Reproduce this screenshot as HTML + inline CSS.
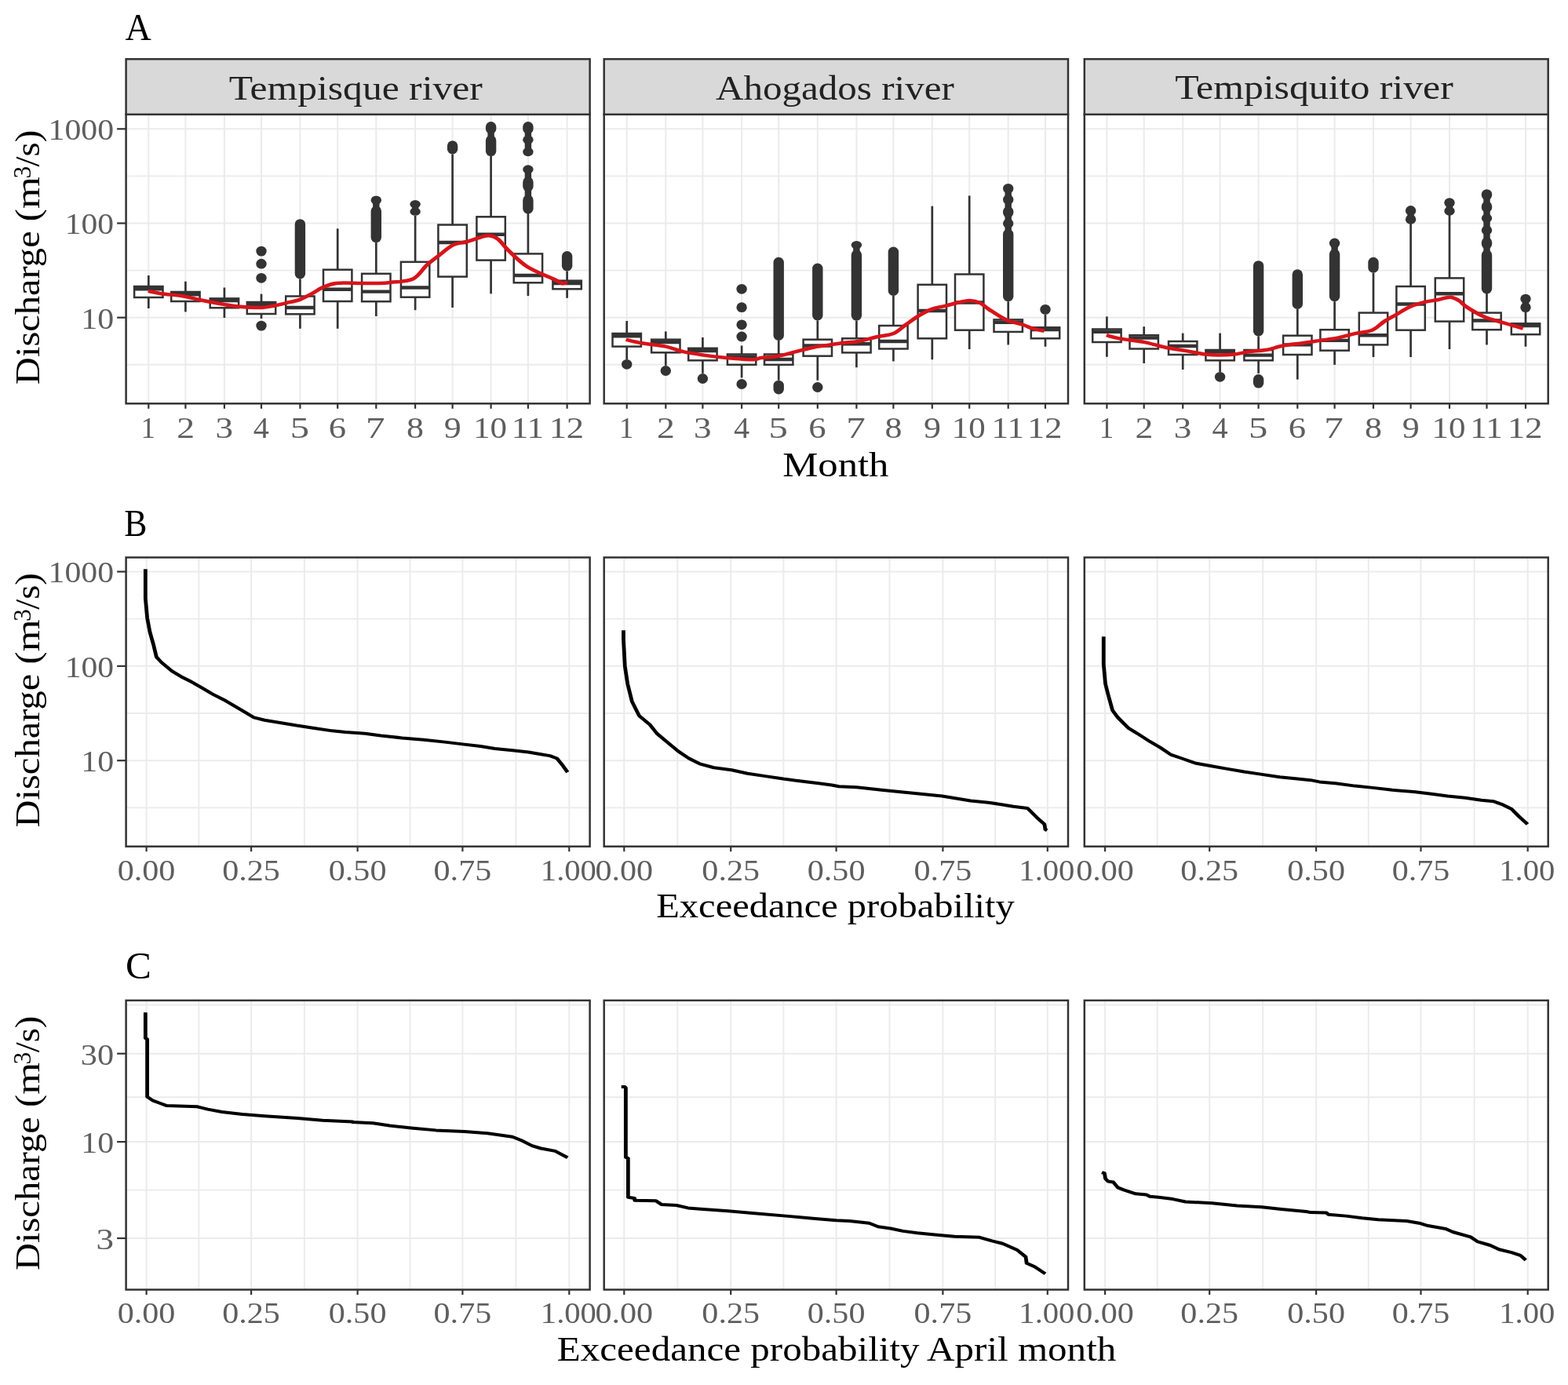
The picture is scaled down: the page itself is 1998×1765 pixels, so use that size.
<!DOCTYPE html>
<html><head><meta charset="utf-8"><title>Discharge figure</title>
<style>html,body{margin:0;padding:0;background:#fff;}svg{display:block;filter:blur(0.45px);}</style>
</head><body>
<svg width="1998" height="1765" viewBox="0 0 1998 1765" font-family='"Liberation Serif", "DejaVu Serif", serif'>
<rect x="0" y="0" width="1998" height="1765" fill="#FFFFFF"/>
<line x1="160.6" y1="224.4" x2="751.6" y2="224.4" stroke="#EBEBEB" stroke-width="1.9"/>
<line x1="160.6" y1="344.6" x2="751.6" y2="344.6" stroke="#EBEBEB" stroke-width="1.9"/>
<line x1="160.6" y1="464.8" x2="751.6" y2="464.8" stroke="#EBEBEB" stroke-width="1.9"/>
<line x1="160.6" y1="164.3" x2="751.6" y2="164.3" stroke="#EBEBEB" stroke-width="2"/>
<line x1="160.6" y1="284.5" x2="751.6" y2="284.5" stroke="#EBEBEB" stroke-width="2"/>
<line x1="160.6" y1="404.7" x2="751.6" y2="404.7" stroke="#EBEBEB" stroke-width="2"/>
<line x1="189.3" y1="145.8" x2="189.3" y2="514.3" stroke="#EBEBEB" stroke-width="2"/>
<line x1="236.4" y1="145.8" x2="236.4" y2="514.3" stroke="#EBEBEB" stroke-width="2"/>
<line x1="285.9" y1="145.8" x2="285.9" y2="514.3" stroke="#EBEBEB" stroke-width="2"/>
<line x1="333" y1="145.8" x2="333" y2="514.3" stroke="#EBEBEB" stroke-width="2"/>
<line x1="382.4" y1="145.8" x2="382.4" y2="514.3" stroke="#EBEBEB" stroke-width="2"/>
<line x1="430.2" y1="145.8" x2="430.2" y2="514.3" stroke="#EBEBEB" stroke-width="2"/>
<line x1="479.3" y1="145.8" x2="479.3" y2="514.3" stroke="#EBEBEB" stroke-width="2"/>
<line x1="529.1" y1="145.8" x2="529.1" y2="514.3" stroke="#EBEBEB" stroke-width="2"/>
<line x1="576.6" y1="145.8" x2="576.6" y2="514.3" stroke="#EBEBEB" stroke-width="2"/>
<line x1="625.6" y1="145.8" x2="625.6" y2="514.3" stroke="#EBEBEB" stroke-width="2"/>
<line x1="672.9" y1="145.8" x2="672.9" y2="514.3" stroke="#EBEBEB" stroke-width="2"/>
<line x1="722.6" y1="145.8" x2="722.6" y2="514.3" stroke="#EBEBEB" stroke-width="2"/>
<line x1="189.3" y1="351" x2="189.3" y2="365" stroke="#333333" stroke-width="2.7"/>
<line x1="189.3" y1="379" x2="189.3" y2="393" stroke="#333333" stroke-width="2.7"/>
<rect x="171.1" y="365" width="36.4" height="14" fill="#FFFFFF" stroke="#333333" stroke-width="2.5"/>
<line x1="171.1" y1="368.3" x2="207.5" y2="368.3" stroke="#333333" stroke-width="4.4"/>
<line x1="236.4" y1="358.7" x2="236.4" y2="372" stroke="#333333" stroke-width="2.7"/>
<line x1="236.4" y1="384" x2="236.4" y2="397.4" stroke="#333333" stroke-width="2.7"/>
<rect x="218.2" y="372" width="36.4" height="12" fill="#FFFFFF" stroke="#333333" stroke-width="2.5"/>
<line x1="218.2" y1="375.3" x2="254.6" y2="375.3" stroke="#333333" stroke-width="4.4"/>
<line x1="285.9" y1="366.5" x2="285.9" y2="380.4" stroke="#333333" stroke-width="2.7"/>
<line x1="285.9" y1="392.3" x2="285.9" y2="405" stroke="#333333" stroke-width="2.7"/>
<rect x="267.7" y="380.4" width="36.4" height="11.9" fill="#FFFFFF" stroke="#333333" stroke-width="2.5"/>
<line x1="267.7" y1="383" x2="304.1" y2="383" stroke="#333333" stroke-width="4.4"/>
<line x1="333" y1="374.6" x2="333" y2="385" stroke="#333333" stroke-width="2.7"/>
<line x1="333" y1="400" x2="333" y2="406" stroke="#333333" stroke-width="2.7"/>
<rect x="314.8" y="385" width="36.4" height="15" fill="#FFFFFF" stroke="#333333" stroke-width="2.5"/>
<line x1="314.8" y1="388.3" x2="351.2" y2="388.3" stroke="#333333" stroke-width="4.4"/>
<ellipse cx="333" cy="320.1" rx="6.7" ry="6.4" fill="#333333"/>
<ellipse cx="333" cy="336.2" rx="6.7" ry="6.4" fill="#333333"/>
<ellipse cx="333" cy="354.3" rx="6.7" ry="6.4" fill="#333333"/>
<ellipse cx="333" cy="415.1" rx="6.7" ry="6.4" fill="#333333"/>
<line x1="382.4" y1="355.4" x2="382.4" y2="377.5" stroke="#333333" stroke-width="2.7"/>
<line x1="382.4" y1="400.3" x2="382.4" y2="418.8" stroke="#333333" stroke-width="2.7"/>
<rect x="364.2" y="377.5" width="36.4" height="22.8" fill="#FFFFFF" stroke="#333333" stroke-width="2.5"/>
<line x1="364.2" y1="392" x2="400.6" y2="392" stroke="#333333" stroke-width="4.4"/>
<rect x="375.7" y="279.2" width="13.4" height="76.2" rx="6.7" ry="6.5" fill="#333333"/>
<line x1="430.2" y1="291.3" x2="430.2" y2="343.7" stroke="#333333" stroke-width="2.7"/>
<line x1="430.2" y1="384" x2="430.2" y2="418.8" stroke="#333333" stroke-width="2.7"/>
<rect x="412" y="343.7" width="36.4" height="40.3" fill="#FFFFFF" stroke="#333333" stroke-width="2.5"/>
<line x1="412" y1="368.7" x2="448.4" y2="368.7" stroke="#333333" stroke-width="4.4"/>
<line x1="479.3" y1="309" x2="479.3" y2="348.8" stroke="#333333" stroke-width="2.7"/>
<line x1="479.3" y1="384.2" x2="479.3" y2="403" stroke="#333333" stroke-width="2.7"/>
<rect x="461.1" y="348.8" width="36.4" height="35.4" fill="#FFFFFF" stroke="#333333" stroke-width="2.5"/>
<line x1="461.1" y1="371.6" x2="497.5" y2="371.6" stroke="#333333" stroke-width="4.4"/>
<rect x="475.1" y="252.4" width="8.4" height="53.6" fill="#333333"/>
<ellipse cx="479.3" cy="255.2" rx="6.7" ry="5.8" fill="#333333"/>
<rect x="472.6" y="262.5" width="13.4" height="46.5" rx="6.7" ry="6.4" fill="#333333"/>
<line x1="529.1" y1="274.8" x2="529.1" y2="333.8" stroke="#333333" stroke-width="2.7"/>
<line x1="529.1" y1="378.7" x2="529.1" y2="395.2" stroke="#333333" stroke-width="2.7"/>
<rect x="510.9" y="333.8" width="36.4" height="44.9" fill="#FFFFFF" stroke="#333333" stroke-width="2.5"/>
<line x1="510.9" y1="366.5" x2="547.3" y2="366.5" stroke="#333333" stroke-width="4.4"/>
<rect x="524.9" y="257.9" width="8.4" height="13.9" fill="#333333"/>
<ellipse cx="529.1" cy="260.2" rx="6.7" ry="5.3" fill="#333333"/>
<ellipse cx="529.1" cy="269.65" rx="6.7" ry="5.15" fill="#333333"/>
<line x1="576.6" y1="196.4" x2="576.6" y2="286.5" stroke="#333333" stroke-width="2.7"/>
<line x1="576.6" y1="352.6" x2="576.6" y2="392" stroke="#333333" stroke-width="2.7"/>
<rect x="558.4" y="286.5" width="36.4" height="66.1" fill="#FFFFFF" stroke="#333333" stroke-width="2.5"/>
<line x1="558.4" y1="309" x2="594.8" y2="309" stroke="#333333" stroke-width="4.4"/>
<rect x="569.9" y="179.3" width="13.4" height="17.1" rx="6.7" ry="6.5" fill="#333333"/>
<line x1="625.6" y1="198.6" x2="625.6" y2="276.3" stroke="#333333" stroke-width="2.7"/>
<line x1="625.6" y1="331.6" x2="625.6" y2="374.3" stroke="#333333" stroke-width="2.7"/>
<rect x="607.4" y="276.3" width="36.4" height="55.3" fill="#FFFFFF" stroke="#333333" stroke-width="2.5"/>
<line x1="607.4" y1="298.7" x2="643.8" y2="298.7" stroke="#333333" stroke-width="4.4"/>
<rect x="621.4" y="158.1" width="8.4" height="37.9" fill="#333333"/>
<rect x="618.9" y="155.1" width="13.4" height="15.5" rx="6.7" ry="6.4" fill="#333333"/>
<rect x="618.9" y="172.5" width="13.4" height="26.5" rx="6.7" ry="6.4" fill="#333333"/>
<line x1="672.9" y1="271.5" x2="672.9" y2="323.4" stroke="#333333" stroke-width="2.7"/>
<line x1="672.9" y1="360.3" x2="672.9" y2="377" stroke="#333333" stroke-width="2.7"/>
<rect x="654.7" y="323.4" width="36.4" height="36.9" fill="#FFFFFF" stroke="#333333" stroke-width="2.5"/>
<line x1="654.7" y1="351" x2="691.1" y2="351" stroke="#333333" stroke-width="4.4"/>
<rect x="668.7" y="158.1" width="8.4" height="38.1" fill="#333333"/>
<rect x="666.2" y="155.1" width="13.4" height="15.5" rx="6.7" ry="6.4" fill="#333333"/>
<ellipse cx="672.9" cy="178.3" rx="6.7" ry="5.7" fill="#333333"/>
<ellipse cx="672.9" cy="193.55" rx="6.7" ry="5.65" fill="#333333"/>
<rect x="668.7" y="213.3" width="8.4" height="56.1" fill="#333333"/>
<ellipse cx="672.9" cy="215.9" rx="6.7" ry="5.6" fill="#333333"/>
<rect x="666.2" y="225.5" width="13.4" height="18.5" rx="6.7" ry="6.4" fill="#333333"/>
<rect x="666.2" y="248.5" width="13.4" height="23.9" rx="6.7" ry="6.4" fill="#333333"/>
<line x1="722.6" y1="345.5" x2="722.6" y2="357.7" stroke="#333333" stroke-width="2.7"/>
<line x1="722.6" y1="368.3" x2="722.6" y2="379.8" stroke="#333333" stroke-width="2.7"/>
<rect x="704.4" y="357.7" width="36.4" height="10.6" fill="#FFFFFF" stroke="#333333" stroke-width="2.5"/>
<line x1="704.4" y1="361" x2="740.8" y2="361" stroke="#333333" stroke-width="4.4"/>
<rect x="715.9" y="320.1" width="13.4" height="25.4" rx="6.7" ry="6.5" fill="#333333"/>
<g transform="scale(1.2,1)"><path d="M157.25,370.9 C159.54,371.45 164.71,373.1 171,374.2 C177.29,375.3 188.25,376.2 195,377.5 C201.75,378.8 204.75,380.33 211.5,382 C218.25,383.67 228.43,386.03 235.5,387.5 C242.57,388.97 246.86,390.07 253.92,390.8 C260.97,391.53 271.69,392.08 277.83,391.9 C283.97,391.72 285.85,390.82 290.75,389.7 C295.65,388.58 302.65,386.5 307.25,385.2 C311.85,383.9 314.33,383.73 318.33,381.9 C322.33,380.07 327.26,376.77 331.25,374.2 C335.24,371.63 337.96,368.72 342.25,366.5 C346.54,364.28 350.15,361.82 357,360.9 C363.85,359.98 376.19,360.98 383.33,361 C390.47,361.02 394.63,361.18 399.83,361 C405.04,360.82 408.14,360.82 414.58,359.9 C421.03,358.98 432.06,359.18 438.5,355.5 C444.94,351.82 448.65,342.78 453.25,337.8 C457.85,332.82 461.49,329.83 466.08,325.6 C470.68,321.37 475.92,315.33 480.83,312.4 C485.75,309.47 490.67,309.67 495.58,308 C500.5,306.33 506.35,303.7 510.33,302.4 C514.32,301.1 516.43,299.83 519.5,300.2 C522.57,300.57 525.38,301.47 528.75,304.6 C532.12,307.73 534.54,313.1 539.75,319 C544.96,324.9 552.01,333.92 560,340 C567.99,346.08 581.53,352 587.67,355.5 C593.81,359 594.38,360.27 596.83,361 C599.29,361.73 601.49,360.08 602.42,359.9" fill="none" stroke="#D7141A" stroke-width="4.5" stroke-linejoin="round" stroke-linecap="butt"/></g>
<rect x="160.6" y="145.8" width="591" height="368.5" fill="none" stroke="#333333" stroke-width="2.5"/>
<rect x="160.6" y="75.3" width="591" height="70.5" fill="#D9D9D9" stroke="#333333" stroke-width="2.5"/>
<line x1="189.3" y1="514.3" x2="189.3" y2="520.8" stroke="#333333" stroke-width="2.2"/>
<line x1="236.4" y1="514.3" x2="236.4" y2="520.8" stroke="#333333" stroke-width="2.2"/>
<line x1="285.9" y1="514.3" x2="285.9" y2="520.8" stroke="#333333" stroke-width="2.2"/>
<line x1="333" y1="514.3" x2="333" y2="520.8" stroke="#333333" stroke-width="2.2"/>
<line x1="382.4" y1="514.3" x2="382.4" y2="520.8" stroke="#333333" stroke-width="2.2"/>
<line x1="430.2" y1="514.3" x2="430.2" y2="520.8" stroke="#333333" stroke-width="2.2"/>
<line x1="479.3" y1="514.3" x2="479.3" y2="520.8" stroke="#333333" stroke-width="2.2"/>
<line x1="529.1" y1="514.3" x2="529.1" y2="520.8" stroke="#333333" stroke-width="2.2"/>
<line x1="576.6" y1="514.3" x2="576.6" y2="520.8" stroke="#333333" stroke-width="2.2"/>
<line x1="625.6" y1="514.3" x2="625.6" y2="520.8" stroke="#333333" stroke-width="2.2"/>
<line x1="672.9" y1="514.3" x2="672.9" y2="520.8" stroke="#333333" stroke-width="2.2"/>
<line x1="722.6" y1="514.3" x2="722.6" y2="520.8" stroke="#333333" stroke-width="2.2"/>
<line x1="769.7" y1="224.4" x2="1361" y2="224.4" stroke="#EBEBEB" stroke-width="1.9"/>
<line x1="769.7" y1="344.6" x2="1361" y2="344.6" stroke="#EBEBEB" stroke-width="1.9"/>
<line x1="769.7" y1="464.8" x2="1361" y2="464.8" stroke="#EBEBEB" stroke-width="1.9"/>
<line x1="769.7" y1="164.3" x2="1361" y2="164.3" stroke="#EBEBEB" stroke-width="2"/>
<line x1="769.7" y1="284.5" x2="1361" y2="284.5" stroke="#EBEBEB" stroke-width="2"/>
<line x1="769.7" y1="404.7" x2="1361" y2="404.7" stroke="#EBEBEB" stroke-width="2"/>
<line x1="798.7" y1="145.8" x2="798.7" y2="514.3" stroke="#EBEBEB" stroke-width="2"/>
<line x1="848.3" y1="145.8" x2="848.3" y2="514.3" stroke="#EBEBEB" stroke-width="2"/>
<line x1="895.4" y1="145.8" x2="895.4" y2="514.3" stroke="#EBEBEB" stroke-width="2"/>
<line x1="945.1" y1="145.8" x2="945.1" y2="514.3" stroke="#EBEBEB" stroke-width="2"/>
<line x1="992.2" y1="145.8" x2="992.2" y2="514.3" stroke="#EBEBEB" stroke-width="2"/>
<line x1="1041.8" y1="145.8" x2="1041.8" y2="514.3" stroke="#EBEBEB" stroke-width="2"/>
<line x1="1091.4" y1="145.8" x2="1091.4" y2="514.3" stroke="#EBEBEB" stroke-width="2"/>
<line x1="1138.4" y1="145.8" x2="1138.4" y2="514.3" stroke="#EBEBEB" stroke-width="2"/>
<line x1="1187.8" y1="145.8" x2="1187.8" y2="514.3" stroke="#EBEBEB" stroke-width="2"/>
<line x1="1235.2" y1="145.8" x2="1235.2" y2="514.3" stroke="#EBEBEB" stroke-width="2"/>
<line x1="1284.7" y1="145.8" x2="1284.7" y2="514.3" stroke="#EBEBEB" stroke-width="2"/>
<line x1="1332" y1="145.8" x2="1332" y2="514.3" stroke="#EBEBEB" stroke-width="2"/>
<line x1="798.7" y1="409" x2="798.7" y2="425" stroke="#333333" stroke-width="2.7"/>
<line x1="798.7" y1="441.6" x2="798.7" y2="458" stroke="#333333" stroke-width="2.7"/>
<rect x="780.5" y="425" width="36.4" height="16.6" fill="#FFFFFF" stroke="#333333" stroke-width="2.5"/>
<line x1="780.5" y1="428.3" x2="816.9" y2="428.3" stroke="#333333" stroke-width="4.4"/>
<ellipse cx="798.7" cy="464.3" rx="6.7" ry="6.4" fill="#333333"/>
<line x1="848.3" y1="422.4" x2="848.3" y2="432.7" stroke="#333333" stroke-width="2.7"/>
<line x1="848.3" y1="449.3" x2="848.3" y2="465.9" stroke="#333333" stroke-width="2.7"/>
<rect x="830.1" y="432.7" width="36.4" height="16.6" fill="#FFFFFF" stroke="#333333" stroke-width="2.5"/>
<line x1="830.1" y1="436" x2="866.5" y2="436" stroke="#333333" stroke-width="4.4"/>
<ellipse cx="848.3" cy="472.5" rx="6.7" ry="6.4" fill="#333333"/>
<line x1="895.4" y1="430" x2="895.4" y2="443.8" stroke="#333333" stroke-width="2.7"/>
<line x1="895.4" y1="459.3" x2="895.4" y2="475.8" stroke="#333333" stroke-width="2.7"/>
<rect x="877.2" y="443.8" width="36.4" height="15.5" fill="#FFFFFF" stroke="#333333" stroke-width="2.5"/>
<line x1="877.2" y1="447" x2="913.6" y2="447" stroke="#333333" stroke-width="4.4"/>
<ellipse cx="895.4" cy="482.5" rx="6.7" ry="6.4" fill="#333333"/>
<line x1="945.1" y1="440.5" x2="945.1" y2="451.5" stroke="#333333" stroke-width="2.7"/>
<line x1="945.1" y1="464.8" x2="945.1" y2="481.4" stroke="#333333" stroke-width="2.7"/>
<rect x="926.9" y="451.5" width="36.4" height="13.3" fill="#FFFFFF" stroke="#333333" stroke-width="2.5"/>
<line x1="926.9" y1="454.8" x2="963.3" y2="454.8" stroke="#333333" stroke-width="4.4"/>
<ellipse cx="945.1" cy="368.3" rx="6.7" ry="6.4" fill="#333333"/>
<ellipse cx="945.1" cy="391.7" rx="6.7" ry="6.4" fill="#333333"/>
<ellipse cx="945.1" cy="413.8" rx="6.7" ry="6.4" fill="#333333"/>
<ellipse cx="945.1" cy="429" rx="6.7" ry="6.4" fill="#333333"/>
<ellipse cx="945.1" cy="489.5" rx="6.7" ry="6.4" fill="#333333"/>
<line x1="992.2" y1="433.9" x2="992.2" y2="451.5" stroke="#333333" stroke-width="2.7"/>
<line x1="992.2" y1="464.8" x2="992.2" y2="484.7" stroke="#333333" stroke-width="2.7"/>
<rect x="974" y="451.5" width="36.4" height="13.3" fill="#FFFFFF" stroke="#333333" stroke-width="2.5"/>
<line x1="974" y1="458" x2="1010.4" y2="458" stroke="#333333" stroke-width="4.4"/>
<rect x="985.5" y="327.8" width="13.4" height="106.1" rx="6.7" ry="6.5" fill="#333333"/>
<rect x="985.5" y="484.7" width="13.4" height="17.7" rx="6.7" ry="6.5" fill="#333333"/>
<line x1="1041.8" y1="408.4" x2="1041.8" y2="432.7" stroke="#333333" stroke-width="2.7"/>
<line x1="1041.8" y1="453.7" x2="1041.8" y2="484.7" stroke="#333333" stroke-width="2.7"/>
<rect x="1023.6" y="432.7" width="36.4" height="21" fill="#FFFFFF" stroke="#333333" stroke-width="2.5"/>
<line x1="1023.6" y1="440.5" x2="1060" y2="440.5" stroke="#333333" stroke-width="4.4"/>
<rect x="1035.1" y="335.5" width="13.4" height="72.9" rx="6.7" ry="6.5" fill="#333333"/>
<ellipse cx="1041.8" cy="493.5" rx="6.7" ry="6.4" fill="#333333"/>
<line x1="1091.4" y1="408.5" x2="1091.4" y2="431.3" stroke="#333333" stroke-width="2.7"/>
<line x1="1091.4" y1="449.4" x2="1091.4" y2="468.2" stroke="#333333" stroke-width="2.7"/>
<rect x="1073.2" y="431.3" width="36.4" height="18.1" fill="#FFFFFF" stroke="#333333" stroke-width="2.5"/>
<line x1="1073.2" y1="438.3" x2="1109.6" y2="438.3" stroke="#333333" stroke-width="4.4"/>
<rect x="1087.2" y="309.9" width="8.4" height="95.6" fill="#333333"/>
<ellipse cx="1091.4" cy="312.2" rx="6.7" ry="5.3" fill="#333333"/>
<rect x="1084.7" y="318.5" width="13.4" height="90" rx="6.7" ry="6.4" fill="#333333"/>
<line x1="1138.4" y1="377" x2="1138.4" y2="415" stroke="#333333" stroke-width="2.7"/>
<line x1="1138.4" y1="444.5" x2="1138.4" y2="460.4" stroke="#333333" stroke-width="2.7"/>
<rect x="1120.2" y="415" width="36.4" height="29.5" fill="#FFFFFF" stroke="#333333" stroke-width="2.5"/>
<line x1="1120.2" y1="435" x2="1156.6" y2="435" stroke="#333333" stroke-width="4.4"/>
<rect x="1131.7" y="314.6" width="13.4" height="62.4" rx="6.7" ry="6.5" fill="#333333"/>
<line x1="1187.8" y1="262.7" x2="1187.8" y2="362.8" stroke="#333333" stroke-width="2.7"/>
<line x1="1187.8" y1="431.3" x2="1187.8" y2="458.2" stroke="#333333" stroke-width="2.7"/>
<rect x="1169.6" y="362.8" width="36.4" height="68.5" fill="#FFFFFF" stroke="#333333" stroke-width="2.5"/>
<line x1="1169.6" y1="396" x2="1206" y2="396" stroke="#333333" stroke-width="4.4"/>
<line x1="1235.2" y1="249.4" x2="1235.2" y2="349.5" stroke="#333333" stroke-width="2.7"/>
<line x1="1235.2" y1="420.7" x2="1235.2" y2="445" stroke="#333333" stroke-width="2.7"/>
<rect x="1217" y="349.5" width="36.4" height="71.2" fill="#FFFFFF" stroke="#333333" stroke-width="2.5"/>
<line x1="1217" y1="385.5" x2="1253.4" y2="385.5" stroke="#333333" stroke-width="4.4"/>
<line x1="1284.7" y1="384.2" x2="1284.7" y2="407.4" stroke="#333333" stroke-width="2.7"/>
<line x1="1284.7" y1="422.9" x2="1284.7" y2="439.4" stroke="#333333" stroke-width="2.7"/>
<rect x="1266.5" y="407.4" width="36.4" height="15.5" fill="#FFFFFF" stroke="#333333" stroke-width="2.5"/>
<line x1="1266.5" y1="410.7" x2="1302.9" y2="410.7" stroke="#333333" stroke-width="4.4"/>
<rect x="1280.5" y="236.9" width="8.4" height="144.3" fill="#333333"/>
<ellipse cx="1284.7" cy="240.2" rx="6.7" ry="6.3" fill="#333333"/>
<ellipse cx="1284.7" cy="254.4" rx="6.7" ry="6.6" fill="#333333"/>
<rect x="1278" y="263.2" width="13.4" height="14.3" rx="6.7" ry="6.4" fill="#333333"/>
<ellipse cx="1284.7" cy="284.9" rx="6.7" ry="6.1" fill="#333333"/>
<rect x="1278" y="292" width="13.4" height="92.2" rx="6.7" ry="6.4" fill="#333333"/>
<line x1="1332" y1="400.8" x2="1332" y2="417.3" stroke="#333333" stroke-width="2.7"/>
<line x1="1332" y1="431.3" x2="1332" y2="441.7" stroke="#333333" stroke-width="2.7"/>
<rect x="1313.8" y="417.3" width="36.4" height="14" fill="#FFFFFF" stroke="#333333" stroke-width="2.5"/>
<line x1="1313.8" y1="420" x2="1350.2" y2="420" stroke="#333333" stroke-width="4.4"/>
<ellipse cx="1332" cy="394.4" rx="6.7" ry="6.4" fill="#333333"/>
<g transform="scale(1.2,1)"><path d="M664.67,432.8 C667.42,433.53 674.11,435.73 681.17,437.2 C688.22,438.67 699.62,439.77 707,441.6 C714.38,443.43 718.67,446.37 725.42,448.2 C732.17,450.03 739.83,451.3 747.5,452.6 C755.17,453.9 762.83,455.07 771.42,456 C780,456.93 792.86,458.2 799,458.2 C805.14,458.2 803.64,456.75 808.25,456 C812.86,455.25 820.53,455 826.67,453.7 C832.81,452.4 838.94,450.03 845.08,448.2 C851.22,446.37 858.51,443.97 863.5,442.7 C868.49,441.43 870.01,441.52 875,440.6 C879.99,439.68 887.28,438.13 893.42,437.2 C899.56,436.27 905.69,436.28 911.83,435 C917.97,433.72 924.11,431.15 930.25,429.5 C936.39,427.85 943.44,427.68 948.67,425.1 C953.89,422.52 956.99,417.87 961.58,414 C966.18,410.13 971.65,405.22 976.25,401.9 C980.85,398.58 984.56,396.12 989.17,394.1 C993.78,392.08 999,391.27 1003.92,389.8 C1008.83,388.33 1014.38,386.43 1018.67,385.3 C1022.96,384.17 1025.99,382.87 1029.67,383 C1033.35,383.13 1037.38,384.25 1040.75,386.1 C1044.13,387.95 1045.32,390.55 1049.92,394.1 C1054.51,397.65 1062.19,404.08 1068.33,407.4 C1074.47,410.72 1082.14,412.15 1086.75,414 C1091.36,415.85 1092.31,417.2 1096,418.5 C1099.69,419.8 1106.76,421.25 1108.92,421.8" fill="none" stroke="#D7141A" stroke-width="4.5" stroke-linejoin="round" stroke-linecap="butt"/></g>
<rect x="769.7" y="145.8" width="591.3" height="368.5" fill="none" stroke="#333333" stroke-width="2.5"/>
<rect x="769.7" y="75.3" width="591.3" height="70.5" fill="#D9D9D9" stroke="#333333" stroke-width="2.5"/>
<line x1="798.7" y1="514.3" x2="798.7" y2="520.8" stroke="#333333" stroke-width="2.2"/>
<line x1="848.3" y1="514.3" x2="848.3" y2="520.8" stroke="#333333" stroke-width="2.2"/>
<line x1="895.4" y1="514.3" x2="895.4" y2="520.8" stroke="#333333" stroke-width="2.2"/>
<line x1="945.1" y1="514.3" x2="945.1" y2="520.8" stroke="#333333" stroke-width="2.2"/>
<line x1="992.2" y1="514.3" x2="992.2" y2="520.8" stroke="#333333" stroke-width="2.2"/>
<line x1="1041.8" y1="514.3" x2="1041.8" y2="520.8" stroke="#333333" stroke-width="2.2"/>
<line x1="1091.4" y1="514.3" x2="1091.4" y2="520.8" stroke="#333333" stroke-width="2.2"/>
<line x1="1138.4" y1="514.3" x2="1138.4" y2="520.8" stroke="#333333" stroke-width="2.2"/>
<line x1="1187.8" y1="514.3" x2="1187.8" y2="520.8" stroke="#333333" stroke-width="2.2"/>
<line x1="1235.2" y1="514.3" x2="1235.2" y2="520.8" stroke="#333333" stroke-width="2.2"/>
<line x1="1284.7" y1="514.3" x2="1284.7" y2="520.8" stroke="#333333" stroke-width="2.2"/>
<line x1="1332" y1="514.3" x2="1332" y2="520.8" stroke="#333333" stroke-width="2.2"/>
<line x1="1381.8" y1="224.4" x2="1972.7" y2="224.4" stroke="#EBEBEB" stroke-width="1.9"/>
<line x1="1381.8" y1="344.6" x2="1972.7" y2="344.6" stroke="#EBEBEB" stroke-width="1.9"/>
<line x1="1381.8" y1="464.8" x2="1972.7" y2="464.8" stroke="#EBEBEB" stroke-width="1.9"/>
<line x1="1381.8" y1="164.3" x2="1972.7" y2="164.3" stroke="#EBEBEB" stroke-width="2"/>
<line x1="1381.8" y1="284.5" x2="1972.7" y2="284.5" stroke="#EBEBEB" stroke-width="2"/>
<line x1="1381.8" y1="404.7" x2="1972.7" y2="404.7" stroke="#EBEBEB" stroke-width="2"/>
<line x1="1410.4" y1="145.8" x2="1410.4" y2="514.3" stroke="#EBEBEB" stroke-width="2"/>
<line x1="1457.7" y1="145.8" x2="1457.7" y2="514.3" stroke="#EBEBEB" stroke-width="2"/>
<line x1="1507.2" y1="145.8" x2="1507.2" y2="514.3" stroke="#EBEBEB" stroke-width="2"/>
<line x1="1554.6" y1="145.8" x2="1554.6" y2="514.3" stroke="#EBEBEB" stroke-width="2"/>
<line x1="1603.6" y1="145.8" x2="1603.6" y2="514.3" stroke="#EBEBEB" stroke-width="2"/>
<line x1="1653.3" y1="145.8" x2="1653.3" y2="514.3" stroke="#EBEBEB" stroke-width="2"/>
<line x1="1700.6" y1="145.8" x2="1700.6" y2="514.3" stroke="#EBEBEB" stroke-width="2"/>
<line x1="1750" y1="145.8" x2="1750" y2="514.3" stroke="#EBEBEB" stroke-width="2"/>
<line x1="1797.6" y1="145.8" x2="1797.6" y2="514.3" stroke="#EBEBEB" stroke-width="2"/>
<line x1="1847" y1="145.8" x2="1847" y2="514.3" stroke="#EBEBEB" stroke-width="2"/>
<line x1="1894.5" y1="145.8" x2="1894.5" y2="514.3" stroke="#EBEBEB" stroke-width="2"/>
<line x1="1944" y1="145.8" x2="1944" y2="514.3" stroke="#EBEBEB" stroke-width="2"/>
<line x1="1410.4" y1="403.4" x2="1410.4" y2="419.5" stroke="#333333" stroke-width="2.7"/>
<line x1="1410.4" y1="436" x2="1410.4" y2="454.8" stroke="#333333" stroke-width="2.7"/>
<rect x="1392.2" y="419.5" width="36.4" height="16.5" fill="#FFFFFF" stroke="#333333" stroke-width="2.5"/>
<line x1="1392.2" y1="422.8" x2="1428.6" y2="422.8" stroke="#333333" stroke-width="4.4"/>
<line x1="1457.7" y1="416.2" x2="1457.7" y2="427.2" stroke="#333333" stroke-width="2.7"/>
<line x1="1457.7" y1="444.5" x2="1457.7" y2="463" stroke="#333333" stroke-width="2.7"/>
<rect x="1439.5" y="427.2" width="36.4" height="17.3" fill="#FFFFFF" stroke="#333333" stroke-width="2.5"/>
<line x1="1439.5" y1="430.5" x2="1475.9" y2="430.5" stroke="#333333" stroke-width="4.4"/>
<line x1="1507.2" y1="424.6" x2="1507.2" y2="435" stroke="#333333" stroke-width="2.7"/>
<line x1="1507.2" y1="452" x2="1507.2" y2="471" stroke="#333333" stroke-width="2.7"/>
<rect x="1489" y="435" width="36.4" height="17" fill="#FFFFFF" stroke="#333333" stroke-width="2.5"/>
<line x1="1489" y1="441" x2="1525.4" y2="441" stroke="#333333" stroke-width="4.4"/>
<line x1="1554.6" y1="424.6" x2="1554.6" y2="446" stroke="#333333" stroke-width="2.7"/>
<line x1="1554.6" y1="459.3" x2="1554.6" y2="474" stroke="#333333" stroke-width="2.7"/>
<rect x="1536.4" y="446" width="36.4" height="13.3" fill="#FFFFFF" stroke="#333333" stroke-width="2.5"/>
<line x1="1536.4" y1="448.2" x2="1572.8" y2="448.2" stroke="#333333" stroke-width="4.4"/>
<ellipse cx="1554.6" cy="480.3" rx="6.7" ry="6.4" fill="#333333"/>
<line x1="1603.6" y1="428.3" x2="1603.6" y2="446" stroke="#333333" stroke-width="2.7"/>
<line x1="1603.6" y1="459.3" x2="1603.6" y2="475.8" stroke="#333333" stroke-width="2.7"/>
<rect x="1585.4" y="446" width="36.4" height="13.3" fill="#FFFFFF" stroke="#333333" stroke-width="2.5"/>
<line x1="1585.4" y1="452.6" x2="1621.8" y2="452.6" stroke="#333333" stroke-width="4.4"/>
<rect x="1596.9" y="332.2" width="13.4" height="96.1" rx="6.7" ry="6.5" fill="#333333"/>
<rect x="1596.9" y="477" width="13.4" height="17.6" rx="6.7" ry="6.5" fill="#333333"/>
<line x1="1653.3" y1="394" x2="1653.3" y2="427.7" stroke="#333333" stroke-width="2.7"/>
<line x1="1653.3" y1="452" x2="1653.3" y2="483.6" stroke="#333333" stroke-width="2.7"/>
<rect x="1635.1" y="427.7" width="36.4" height="24.3" fill="#FFFFFF" stroke="#333333" stroke-width="2.5"/>
<line x1="1635.1" y1="439.4" x2="1671.5" y2="439.4" stroke="#333333" stroke-width="4.4"/>
<rect x="1646.6" y="343.3" width="13.4" height="50.7" rx="6.7" ry="6.5" fill="#333333"/>
<line x1="1700.6" y1="384.2" x2="1700.6" y2="420.2" stroke="#333333" stroke-width="2.7"/>
<line x1="1700.6" y1="446.7" x2="1700.6" y2="464.9" stroke="#333333" stroke-width="2.7"/>
<rect x="1682.4" y="420.2" width="36.4" height="26.5" fill="#FFFFFF" stroke="#333333" stroke-width="2.5"/>
<line x1="1682.4" y1="433.9" x2="1718.8" y2="433.9" stroke="#333333" stroke-width="4.4"/>
<rect x="1696.4" y="306.5" width="8.4" height="74.7" fill="#333333"/>
<ellipse cx="1700.6" cy="310" rx="6.7" ry="6.5" fill="#333333"/>
<rect x="1693.9" y="317.5" width="13.4" height="66.7" rx="6.7" ry="6.4" fill="#333333"/>
<line x1="1750" y1="347.7" x2="1750" y2="398.6" stroke="#333333" stroke-width="2.7"/>
<line x1="1750" y1="439.4" x2="1750" y2="455" stroke="#333333" stroke-width="2.7"/>
<rect x="1731.8" y="398.6" width="36.4" height="40.8" fill="#FFFFFF" stroke="#333333" stroke-width="2.5"/>
<line x1="1731.8" y1="427.3" x2="1768.2" y2="427.3" stroke="#333333" stroke-width="4.4"/>
<rect x="1743.3" y="327.8" width="13.4" height="19.9" rx="6.7" ry="6.5" fill="#333333"/>
<line x1="1797.6" y1="284.8" x2="1797.6" y2="365" stroke="#333333" stroke-width="2.7"/>
<line x1="1797.6" y1="420.7" x2="1797.6" y2="455" stroke="#333333" stroke-width="2.7"/>
<rect x="1779.4" y="365" width="36.4" height="55.7" fill="#FFFFFF" stroke="#333333" stroke-width="2.5"/>
<line x1="1779.4" y1="387.5" x2="1815.8" y2="387.5" stroke="#333333" stroke-width="4.4"/>
<rect x="1793.4" y="265" width="8.4" height="17.9" fill="#333333"/>
<ellipse cx="1797.6" cy="268.5" rx="6.7" ry="6.5" fill="#333333"/>
<ellipse cx="1797.6" cy="279.7" rx="6.7" ry="6.2" fill="#333333"/>
<line x1="1847" y1="273.7" x2="1847" y2="354.4" stroke="#333333" stroke-width="2.7"/>
<line x1="1847" y1="409.6" x2="1847" y2="445" stroke="#333333" stroke-width="2.7"/>
<rect x="1828.8" y="354.4" width="36.4" height="55.2" fill="#FFFFFF" stroke="#333333" stroke-width="2.5"/>
<line x1="1828.8" y1="374.3" x2="1865.2" y2="374.3" stroke="#333333" stroke-width="4.4"/>
<rect x="1842.8" y="255.2" width="8.4" height="16.6" fill="#333333"/>
<ellipse cx="1847" cy="258.35" rx="6.7" ry="6.15" fill="#333333"/>
<ellipse cx="1847" cy="268.9" rx="6.7" ry="5.9" fill="#333333"/>
<line x1="1894.5" y1="373.1" x2="1894.5" y2="398.6" stroke="#333333" stroke-width="2.7"/>
<line x1="1894.5" y1="420.2" x2="1894.5" y2="439.4" stroke="#333333" stroke-width="2.7"/>
<rect x="1876.3" y="398.6" width="36.4" height="21.6" fill="#FFFFFF" stroke="#333333" stroke-width="2.5"/>
<line x1="1876.3" y1="408.5" x2="1912.7" y2="408.5" stroke="#333333" stroke-width="4.4"/>
<rect x="1890.3" y="244.2" width="8.4" height="127.1" fill="#333333"/>
<rect x="1887.8" y="241.2" width="13.4" height="13.8" rx="6.7" ry="6.4" fill="#333333"/>
<rect x="1887.8" y="256.5" width="13.4" height="14.3" rx="6.7" ry="6.4" fill="#333333"/>
<ellipse cx="1894.5" cy="278.1" rx="6.7" ry="5.9" fill="#333333"/>
<ellipse cx="1894.5" cy="293.5" rx="6.7" ry="6" fill="#333333"/>
<rect x="1887.8" y="302.5" width="13.4" height="15" rx="6.7" ry="6.4" fill="#333333"/>
<rect x="1887.8" y="318.5" width="13.4" height="55.8" rx="6.7" ry="6.4" fill="#333333"/>
<line x1="1944" y1="397.5" x2="1944" y2="412.3" stroke="#333333" stroke-width="2.7"/>
<line x1="1944" y1="426.2" x2="1944" y2="441.7" stroke="#333333" stroke-width="2.7"/>
<rect x="1925.8" y="412.3" width="36.4" height="13.9" fill="#FFFFFF" stroke="#333333" stroke-width="2.5"/>
<line x1="1925.8" y1="415" x2="1962.2" y2="415" stroke="#333333" stroke-width="4.4"/>
<rect x="1939.8" y="377.7" width="8.4" height="17.4" fill="#333333"/>
<ellipse cx="1944" cy="380.85" rx="6.7" ry="6.15" fill="#333333"/>
<ellipse cx="1944" cy="391.8" rx="6.7" ry="6.3" fill="#333333"/>
<g transform="scale(1.2,1)"><path d="M1174.83,427.2 C1177.28,427.93 1182.75,430.12 1189.5,431.6 C1196.25,433.08 1207.35,434.25 1215.33,436.1 C1223.32,437.95 1230.06,440.87 1237.42,442.7 C1244.78,444.53 1252.44,445.63 1259.5,447.1 C1266.56,448.57 1273.92,450.58 1279.75,451.5 C1285.58,452.42 1289.28,452.6 1294.5,452.6 C1299.72,452.6 1305.86,452.23 1311.08,451.5 C1316.31,450.77 1320.32,449.12 1325.83,448.2 C1331.35,447.28 1338.04,447.28 1344.17,446 C1350.29,444.72 1356.06,441.97 1362.58,440.5 C1369.11,439.03 1376.81,438.3 1383.33,437.2 C1389.86,436.1 1395.61,435 1401.75,433.9 C1407.89,432.8 1414.03,432.07 1420.17,430.6 C1426.31,429.13 1432.44,426.75 1438.58,425.1 C1444.72,423.45 1451.78,423.28 1457,420.7 C1462.22,418.12 1465.62,412.92 1469.92,409.6 C1474.21,406.28 1478.15,403.93 1482.75,400.8 C1487.35,397.67 1492.58,393.42 1497.5,390.8 C1502.42,388.18 1507.33,386.57 1512.25,385.1 C1517.17,383.63 1522.4,383.07 1527,382 C1531.6,380.93 1536.15,378.53 1539.83,378.7 C1543.51,378.87 1546.01,380.8 1549.08,383 C1552.15,385.2 1553.65,388.38 1558.25,391.9 C1562.85,395.42 1570.53,400.95 1576.67,404.1 C1582.81,407.25 1588.32,408.4 1595.08,410.8 C1601.85,413.2 1613.56,417.22 1617.25,418.5" fill="none" stroke="#D7141A" stroke-width="4.5" stroke-linejoin="round" stroke-linecap="butt"/></g>
<rect x="1381.8" y="145.8" width="590.9" height="368.5" fill="none" stroke="#333333" stroke-width="2.5"/>
<rect x="1381.8" y="75.3" width="590.9" height="70.5" fill="#D9D9D9" stroke="#333333" stroke-width="2.5"/>
<line x1="1410.4" y1="514.3" x2="1410.4" y2="520.8" stroke="#333333" stroke-width="2.2"/>
<line x1="1457.7" y1="514.3" x2="1457.7" y2="520.8" stroke="#333333" stroke-width="2.2"/>
<line x1="1507.2" y1="514.3" x2="1507.2" y2="520.8" stroke="#333333" stroke-width="2.2"/>
<line x1="1554.6" y1="514.3" x2="1554.6" y2="520.8" stroke="#333333" stroke-width="2.2"/>
<line x1="1603.6" y1="514.3" x2="1603.6" y2="520.8" stroke="#333333" stroke-width="2.2"/>
<line x1="1653.3" y1="514.3" x2="1653.3" y2="520.8" stroke="#333333" stroke-width="2.2"/>
<line x1="1700.6" y1="514.3" x2="1700.6" y2="520.8" stroke="#333333" stroke-width="2.2"/>
<line x1="1750" y1="514.3" x2="1750" y2="520.8" stroke="#333333" stroke-width="2.2"/>
<line x1="1797.6" y1="514.3" x2="1797.6" y2="520.8" stroke="#333333" stroke-width="2.2"/>
<line x1="1847" y1="514.3" x2="1847" y2="520.8" stroke="#333333" stroke-width="2.2"/>
<line x1="1894.5" y1="514.3" x2="1894.5" y2="520.8" stroke="#333333" stroke-width="2.2"/>
<line x1="1944" y1="514.3" x2="1944" y2="520.8" stroke="#333333" stroke-width="2.2"/>
<line x1="160.6" y1="788.65" x2="751.6" y2="788.65" stroke="#EBEBEB" stroke-width="1.9"/>
<line x1="160.6" y1="909" x2="751.6" y2="909" stroke="#EBEBEB" stroke-width="1.9"/>
<line x1="160.6" y1="1029.4" x2="751.6" y2="1029.4" stroke="#EBEBEB" stroke-width="1.9"/>
<line x1="253.35" y1="710.4" x2="253.35" y2="1078.7" stroke="#EBEBEB" stroke-width="1.9"/>
<line x1="387.85" y1="710.4" x2="387.85" y2="1078.7" stroke="#EBEBEB" stroke-width="1.9"/>
<line x1="522.5" y1="710.4" x2="522.5" y2="1078.7" stroke="#EBEBEB" stroke-width="1.9"/>
<line x1="657.35" y1="710.4" x2="657.35" y2="1078.7" stroke="#EBEBEB" stroke-width="1.9"/>
<line x1="160.6" y1="728.5" x2="751.6" y2="728.5" stroke="#EBEBEB" stroke-width="2"/>
<line x1="160.6" y1="848.85" x2="751.6" y2="848.85" stroke="#EBEBEB" stroke-width="2"/>
<line x1="160.6" y1="969.2" x2="751.6" y2="969.2" stroke="#EBEBEB" stroke-width="2"/>
<line x1="186.6" y1="710.4" x2="186.6" y2="1078.7" stroke="#EBEBEB" stroke-width="2"/>
<line x1="320.1" y1="710.4" x2="320.1" y2="1078.7" stroke="#EBEBEB" stroke-width="2"/>
<line x1="455.6" y1="710.4" x2="455.6" y2="1078.7" stroke="#EBEBEB" stroke-width="2"/>
<line x1="589.4" y1="710.4" x2="589.4" y2="1078.7" stroke="#EBEBEB" stroke-width="2"/>
<line x1="725.3" y1="710.4" x2="725.3" y2="1078.7" stroke="#EBEBEB" stroke-width="2"/>
<g transform="scale(1.2,1)"><polyline points="154.44,725.13 154.44,762.52 156.33,787.45 159.16,805.58 162.94,821.44 166.15,837.31 171.44,844.11 182.77,855.44 192.21,862.24 203.54,869.04 214.87,876.97 226.2,884.9 237.54,891.7 248.87,899.63 260.2,907.56 269.64,914.36 280.97,917.76 296.08,920.71 314.97,924.56 333.85,927.96 352.74,931.36 366.67,932.95 387.44,934.76 404.44,937.48 427.1,940.42 449.76,942.69 472.43,945.64 491.31,948.36 510.2,951.08 525.31,954.02 544.19,956.29 561.19,958.56 574.41,961.27 583.85,963.09 591.41,966.49 596.13,973.29 602.74,984.16" fill="none" stroke="#000000" stroke-width="4.0" stroke-linejoin="round"/></g>
<rect x="160.6" y="710.4" width="591" height="368.3" fill="none" stroke="#333333" stroke-width="2.5"/>
<line x1="186.6" y1="1078.7" x2="186.6" y2="1085.2" stroke="#333333" stroke-width="2.2"/>
<line x1="320.1" y1="1078.7" x2="320.1" y2="1085.2" stroke="#333333" stroke-width="2.2"/>
<line x1="455.6" y1="1078.7" x2="455.6" y2="1085.2" stroke="#333333" stroke-width="2.2"/>
<line x1="589.4" y1="1078.7" x2="589.4" y2="1085.2" stroke="#333333" stroke-width="2.2"/>
<line x1="725.3" y1="1078.7" x2="725.3" y2="1085.2" stroke="#333333" stroke-width="2.2"/>
<line x1="769.7" y1="788.65" x2="1361" y2="788.65" stroke="#EBEBEB" stroke-width="1.9"/>
<line x1="769.7" y1="909" x2="1361" y2="909" stroke="#EBEBEB" stroke-width="1.9"/>
<line x1="769.7" y1="1029.4" x2="1361" y2="1029.4" stroke="#EBEBEB" stroke-width="1.9"/>
<line x1="863.25" y1="710.4" x2="863.25" y2="1078.7" stroke="#EBEBEB" stroke-width="1.9"/>
<line x1="998.4" y1="710.4" x2="998.4" y2="1078.7" stroke="#EBEBEB" stroke-width="1.9"/>
<line x1="1133.5" y1="710.4" x2="1133.5" y2="1078.7" stroke="#EBEBEB" stroke-width="1.9"/>
<line x1="1268.1" y1="710.4" x2="1268.1" y2="1078.7" stroke="#EBEBEB" stroke-width="1.9"/>
<line x1="769.7" y1="728.5" x2="1361" y2="728.5" stroke="#EBEBEB" stroke-width="2"/>
<line x1="769.7" y1="848.85" x2="1361" y2="848.85" stroke="#EBEBEB" stroke-width="2"/>
<line x1="769.7" y1="969.2" x2="1361" y2="969.2" stroke="#EBEBEB" stroke-width="2"/>
<line x1="795.3" y1="710.4" x2="795.3" y2="1078.7" stroke="#EBEBEB" stroke-width="2"/>
<line x1="931.2" y1="710.4" x2="931.2" y2="1078.7" stroke="#EBEBEB" stroke-width="2"/>
<line x1="1065.6" y1="710.4" x2="1065.6" y2="1078.7" stroke="#EBEBEB" stroke-width="2"/>
<line x1="1201.4" y1="710.4" x2="1201.4" y2="1078.7" stroke="#EBEBEB" stroke-width="2"/>
<line x1="1334.8" y1="710.4" x2="1334.8" y2="1078.7" stroke="#EBEBEB" stroke-width="2"/>
<g transform="scale(1.2,1)"><polyline points="662.04,803.31 662.04,814.65 663.55,848.64 666.38,871.3 671.1,893.97 678.66,912.1 689.99,923.43 697.54,934.76 708.88,946.09 720.21,957.42 731.54,966.49 742.87,973.29 757.98,978.27 776.86,981.22 793.86,985.75 812.75,989.15 831.63,992.55 850.52,995.5 869.41,998.22 883.33,1000.48 890.89,1002.29 909.77,1003.2 936.21,1006.83 958.88,1009.55 977.76,1011.81 1000.42,1014.53 1015.53,1017.48 1030.64,1020.42 1049.53,1022.69 1064.64,1025.41 1075.97,1027.68 1091.08,1029.94 1100.52,1041.27 1109.02,1050.34 1109.96,1057.14 1111.85,1058.27" fill="none" stroke="#000000" stroke-width="4.0" stroke-linejoin="round"/></g>
<rect x="769.7" y="710.4" width="591.3" height="368.3" fill="none" stroke="#333333" stroke-width="2.5"/>
<line x1="795.3" y1="1078.7" x2="795.3" y2="1085.2" stroke="#333333" stroke-width="2.2"/>
<line x1="931.2" y1="1078.7" x2="931.2" y2="1085.2" stroke="#333333" stroke-width="2.2"/>
<line x1="1065.6" y1="1078.7" x2="1065.6" y2="1085.2" stroke="#333333" stroke-width="2.2"/>
<line x1="1201.4" y1="1078.7" x2="1201.4" y2="1085.2" stroke="#333333" stroke-width="2.2"/>
<line x1="1334.8" y1="1078.7" x2="1334.8" y2="1085.2" stroke="#333333" stroke-width="2.2"/>
<line x1="1381.8" y1="788.65" x2="1972.7" y2="788.65" stroke="#EBEBEB" stroke-width="1.9"/>
<line x1="1381.8" y1="909" x2="1972.7" y2="909" stroke="#EBEBEB" stroke-width="1.9"/>
<line x1="1381.8" y1="1029.4" x2="1972.7" y2="1029.4" stroke="#EBEBEB" stroke-width="1.9"/>
<line x1="1474.65" y1="710.4" x2="1474.65" y2="1078.7" stroke="#EBEBEB" stroke-width="1.9"/>
<line x1="1609.15" y1="710.4" x2="1609.15" y2="1078.7" stroke="#EBEBEB" stroke-width="1.9"/>
<line x1="1743.8" y1="710.4" x2="1743.8" y2="1078.7" stroke="#EBEBEB" stroke-width="1.9"/>
<line x1="1878.6" y1="710.4" x2="1878.6" y2="1078.7" stroke="#EBEBEB" stroke-width="1.9"/>
<line x1="1381.8" y1="728.5" x2="1972.7" y2="728.5" stroke="#EBEBEB" stroke-width="2"/>
<line x1="1381.8" y1="848.85" x2="1972.7" y2="848.85" stroke="#EBEBEB" stroke-width="2"/>
<line x1="1381.8" y1="969.2" x2="1972.7" y2="969.2" stroke="#EBEBEB" stroke-width="2"/>
<line x1="1408.1" y1="710.4" x2="1408.1" y2="1078.7" stroke="#EBEBEB" stroke-width="2"/>
<line x1="1541.2" y1="710.4" x2="1541.2" y2="1078.7" stroke="#EBEBEB" stroke-width="2"/>
<line x1="1677.1" y1="710.4" x2="1677.1" y2="1078.7" stroke="#EBEBEB" stroke-width="2"/>
<line x1="1810.5" y1="710.4" x2="1810.5" y2="1078.7" stroke="#EBEBEB" stroke-width="2"/>
<line x1="1946.7" y1="710.4" x2="1946.7" y2="1078.7" stroke="#EBEBEB" stroke-width="2"/>
<g transform="scale(1.2,1)"><polyline points="1171.88,811.25 1171.88,846.37 1173.77,871.3 1176.61,884.9 1181.33,905.3 1186.99,914.36 1198.32,927.96 1207.77,934.76 1220.99,944.96 1232.32,952.89 1243.65,961.95 1254.98,966.49 1270.09,972.83 1285.2,976.01 1302.2,979.63 1321.08,983.48 1339.97,986.88 1358.85,990.28 1377.74,992.55 1391.67,994.14 1401.11,996.4 1418.11,998.22 1438.88,1001.61 1457.77,1003.88 1478.54,1006.83 1501.2,1009.09 1520.09,1011.81 1537.09,1014.53 1555.97,1016.8 1572.97,1019.75 1586.19,1021.33 1595.63,1025.41 1605.08,1031.08 1612.63,1040.14 1622.07,1050.34" fill="none" stroke="#000000" stroke-width="4.0" stroke-linejoin="round"/></g>
<rect x="1381.8" y="710.4" width="590.9" height="368.3" fill="none" stroke="#333333" stroke-width="2.5"/>
<line x1="1408.1" y1="1078.7" x2="1408.1" y2="1085.2" stroke="#333333" stroke-width="2.2"/>
<line x1="1541.2" y1="1078.7" x2="1541.2" y2="1085.2" stroke="#333333" stroke-width="2.2"/>
<line x1="1677.1" y1="1078.7" x2="1677.1" y2="1085.2" stroke="#333333" stroke-width="2.2"/>
<line x1="1810.5" y1="1078.7" x2="1810.5" y2="1085.2" stroke="#333333" stroke-width="2.2"/>
<line x1="1946.7" y1="1078.7" x2="1946.7" y2="1085.2" stroke="#333333" stroke-width="2.2"/>
<line x1="160.6" y1="1280.5" x2="751.6" y2="1280.5" stroke="#EBEBEB" stroke-width="1.9"/>
<line x1="160.6" y1="1398.2" x2="751.6" y2="1398.2" stroke="#EBEBEB" stroke-width="1.9"/>
<line x1="160.6" y1="1516.6" x2="751.6" y2="1516.6" stroke="#EBEBEB" stroke-width="1.9"/>
<line x1="253.35" y1="1274.9" x2="253.35" y2="1643.5" stroke="#EBEBEB" stroke-width="1.9"/>
<line x1="387.85" y1="1274.9" x2="387.85" y2="1643.5" stroke="#EBEBEB" stroke-width="1.9"/>
<line x1="522.5" y1="1274.9" x2="522.5" y2="1643.5" stroke="#EBEBEB" stroke-width="1.9"/>
<line x1="657.35" y1="1274.9" x2="657.35" y2="1643.5" stroke="#EBEBEB" stroke-width="1.9"/>
<line x1="160.6" y1="1342.7" x2="751.6" y2="1342.7" stroke="#EBEBEB" stroke-width="2"/>
<line x1="160.6" y1="1455.1" x2="751.6" y2="1455.1" stroke="#EBEBEB" stroke-width="2"/>
<line x1="160.6" y1="1578" x2="751.6" y2="1578" stroke="#EBEBEB" stroke-width="2"/>
<line x1="186.6" y1="1274.9" x2="186.6" y2="1643.5" stroke="#EBEBEB" stroke-width="2"/>
<line x1="320.1" y1="1274.9" x2="320.1" y2="1643.5" stroke="#EBEBEB" stroke-width="2"/>
<line x1="455.6" y1="1274.9" x2="455.6" y2="1643.5" stroke="#EBEBEB" stroke-width="2"/>
<line x1="589.4" y1="1274.9" x2="589.4" y2="1643.5" stroke="#EBEBEB" stroke-width="2"/>
<line x1="725.3" y1="1274.9" x2="725.3" y2="1643.5" stroke="#EBEBEB" stroke-width="2"/>
<g transform="scale(1.2,1)"><polyline points="154.44,1290.13 154.44,1322.99 156.33,1324.12 156.33,1397.78 161.99,1402.31 169.55,1405.71 177.1,1409.11 209.21,1410.24 220.54,1413.64 235.65,1417.04 257.37,1419.99 280.97,1422.25 315.91,1424.97 342.35,1427.69 374.46,1429.5 374.22,1429.96 395.94,1431.32 413.88,1434.49 436.54,1437.44 462.98,1440.38 493.2,1441.97 517.75,1444.24 544.19,1448.77 553.64,1453.3 564.97,1460.1 574.41,1463.5 589.52,1466.9 602.74,1475.28" fill="none" stroke="#000000" stroke-width="4.0" stroke-linejoin="round"/></g>
<rect x="160.6" y="1274.9" width="591" height="368.6" fill="none" stroke="#333333" stroke-width="2.5"/>
<line x1="186.6" y1="1643.5" x2="186.6" y2="1650" stroke="#333333" stroke-width="2.2"/>
<line x1="320.1" y1="1643.5" x2="320.1" y2="1650" stroke="#333333" stroke-width="2.2"/>
<line x1="455.6" y1="1643.5" x2="455.6" y2="1650" stroke="#333333" stroke-width="2.2"/>
<line x1="589.4" y1="1643.5" x2="589.4" y2="1650" stroke="#333333" stroke-width="2.2"/>
<line x1="725.3" y1="1643.5" x2="725.3" y2="1650" stroke="#333333" stroke-width="2.2"/>
<line x1="769.7" y1="1280.5" x2="1361" y2="1280.5" stroke="#EBEBEB" stroke-width="1.9"/>
<line x1="769.7" y1="1398.2" x2="1361" y2="1398.2" stroke="#EBEBEB" stroke-width="1.9"/>
<line x1="769.7" y1="1516.6" x2="1361" y2="1516.6" stroke="#EBEBEB" stroke-width="1.9"/>
<line x1="863.25" y1="1274.9" x2="863.25" y2="1643.5" stroke="#EBEBEB" stroke-width="1.9"/>
<line x1="998.4" y1="1274.9" x2="998.4" y2="1643.5" stroke="#EBEBEB" stroke-width="1.9"/>
<line x1="1133.5" y1="1274.9" x2="1133.5" y2="1643.5" stroke="#EBEBEB" stroke-width="1.9"/>
<line x1="1268.1" y1="1274.9" x2="1268.1" y2="1643.5" stroke="#EBEBEB" stroke-width="1.9"/>
<line x1="769.7" y1="1342.7" x2="1361" y2="1342.7" stroke="#EBEBEB" stroke-width="2"/>
<line x1="769.7" y1="1455.1" x2="1361" y2="1455.1" stroke="#EBEBEB" stroke-width="2"/>
<line x1="769.7" y1="1578" x2="1361" y2="1578" stroke="#EBEBEB" stroke-width="2"/>
<line x1="795.3" y1="1274.9" x2="795.3" y2="1643.5" stroke="#EBEBEB" stroke-width="2"/>
<line x1="931.2" y1="1274.9" x2="931.2" y2="1643.5" stroke="#EBEBEB" stroke-width="2"/>
<line x1="1065.6" y1="1274.9" x2="1065.6" y2="1643.5" stroke="#EBEBEB" stroke-width="2"/>
<line x1="1201.4" y1="1274.9" x2="1201.4" y2="1643.5" stroke="#EBEBEB" stroke-width="2"/>
<line x1="1334.8" y1="1274.9" x2="1334.8" y2="1643.5" stroke="#EBEBEB" stroke-width="2"/>
<g transform="scale(1.2,1)"><polyline points="659.77,1385.08 663.55,1385.08 664.49,1386.44 664.49,1474.83 666.95,1475.96 666.95,1525.82 673.94,1526.95 673.94,1529.67 696.6,1530.35 702.27,1534.89 718.32,1536.02 730.59,1539.42 746.65,1541.01 773.09,1543.27 801.42,1546.22 834.47,1549.62 865.63,1553.02 888.29,1555.28 902.22,1555.96 922.99,1558.68 932.44,1563.22 945.66,1565.48 958.88,1568.88 973.98,1571.15 992.87,1573.41 1013.64,1575.68 1040.08,1576.81 1053.31,1581.35 1064.64,1584.75 1079.75,1592.68 1089.19,1601.74 1090.13,1609.67 1098.63,1614.21 1109.96,1623.27" fill="none" stroke="#000000" stroke-width="4.0" stroke-linejoin="round"/></g>
<rect x="769.7" y="1274.9" width="591.3" height="368.6" fill="none" stroke="#333333" stroke-width="2.5"/>
<line x1="795.3" y1="1643.5" x2="795.3" y2="1650" stroke="#333333" stroke-width="2.2"/>
<line x1="931.2" y1="1643.5" x2="931.2" y2="1650" stroke="#333333" stroke-width="2.2"/>
<line x1="1065.6" y1="1643.5" x2="1065.6" y2="1650" stroke="#333333" stroke-width="2.2"/>
<line x1="1201.4" y1="1643.5" x2="1201.4" y2="1650" stroke="#333333" stroke-width="2.2"/>
<line x1="1334.8" y1="1643.5" x2="1334.8" y2="1650" stroke="#333333" stroke-width="2.2"/>
<line x1="1381.8" y1="1280.5" x2="1972.7" y2="1280.5" stroke="#EBEBEB" stroke-width="1.9"/>
<line x1="1381.8" y1="1398.2" x2="1972.7" y2="1398.2" stroke="#EBEBEB" stroke-width="1.9"/>
<line x1="1381.8" y1="1516.6" x2="1972.7" y2="1516.6" stroke="#EBEBEB" stroke-width="1.9"/>
<line x1="1474.65" y1="1274.9" x2="1474.65" y2="1643.5" stroke="#EBEBEB" stroke-width="1.9"/>
<line x1="1609.15" y1="1274.9" x2="1609.15" y2="1643.5" stroke="#EBEBEB" stroke-width="1.9"/>
<line x1="1743.8" y1="1274.9" x2="1743.8" y2="1643.5" stroke="#EBEBEB" stroke-width="1.9"/>
<line x1="1878.6" y1="1274.9" x2="1878.6" y2="1643.5" stroke="#EBEBEB" stroke-width="1.9"/>
<line x1="1381.8" y1="1342.7" x2="1972.7" y2="1342.7" stroke="#EBEBEB" stroke-width="2"/>
<line x1="1381.8" y1="1455.1" x2="1972.7" y2="1455.1" stroke="#EBEBEB" stroke-width="2"/>
<line x1="1381.8" y1="1578" x2="1972.7" y2="1578" stroke="#EBEBEB" stroke-width="2"/>
<line x1="1408.1" y1="1274.9" x2="1408.1" y2="1643.5" stroke="#EBEBEB" stroke-width="2"/>
<line x1="1541.2" y1="1274.9" x2="1541.2" y2="1643.5" stroke="#EBEBEB" stroke-width="2"/>
<line x1="1677.1" y1="1274.9" x2="1677.1" y2="1643.5" stroke="#EBEBEB" stroke-width="2"/>
<line x1="1810.5" y1="1274.9" x2="1810.5" y2="1643.5" stroke="#EBEBEB" stroke-width="2"/>
<line x1="1946.7" y1="1274.9" x2="1946.7" y2="1643.5" stroke="#EBEBEB" stroke-width="2"/>
<g transform="scale(1.2,1)"><polyline points="1170,1494.09 1172.83,1495.23 1173.77,1502.03 1176.61,1505.42 1182.27,1506.56 1186.99,1513.36 1192.66,1516.08 1200.21,1519.02 1205.88,1521.29 1217.21,1522.42 1220.99,1524.69 1230.43,1525.82 1245.54,1528.09 1258.76,1531.49 1287.09,1533.3 1313.53,1536.47 1339.97,1538.29 1360.74,1541.01 1387.18,1543.95 1391.67,1545.08 1408.66,1545.54 1410.55,1547.8 1429.44,1549.62 1446.44,1552.34 1463.43,1554.15 1493.65,1555.96 1506.87,1558.68 1516.31,1562.08 1535.2,1565.93 1542.75,1570.01 1561.64,1576.36 1569.19,1582.48 1582.41,1587.01 1591.86,1592.22 1605.08,1596.08 1614.52,1599.93 1620.18,1605.82" fill="none" stroke="#000000" stroke-width="4.0" stroke-linejoin="round"/></g>
<rect x="1381.8" y="1274.9" width="590.9" height="368.6" fill="none" stroke="#333333" stroke-width="2.5"/>
<line x1="1408.1" y1="1643.5" x2="1408.1" y2="1650" stroke="#333333" stroke-width="2.2"/>
<line x1="1541.2" y1="1643.5" x2="1541.2" y2="1650" stroke="#333333" stroke-width="2.2"/>
<line x1="1677.1" y1="1643.5" x2="1677.1" y2="1650" stroke="#333333" stroke-width="2.2"/>
<line x1="1810.5" y1="1643.5" x2="1810.5" y2="1650" stroke="#333333" stroke-width="2.2"/>
<line x1="1946.7" y1="1643.5" x2="1946.7" y2="1650" stroke="#333333" stroke-width="2.2"/>
<line x1="149.1" y1="164.3" x2="160.6" y2="164.3" stroke="#333333" stroke-width="2.2"/>
<line x1="149.1" y1="284.5" x2="160.6" y2="284.5" stroke="#333333" stroke-width="2.2"/>
<line x1="149.1" y1="404.7" x2="160.6" y2="404.7" stroke="#333333" stroke-width="2.2"/>
<line x1="149.1" y1="728.5" x2="160.6" y2="728.5" stroke="#333333" stroke-width="2.2"/>
<line x1="149.1" y1="848.85" x2="160.6" y2="848.85" stroke="#333333" stroke-width="2.2"/>
<line x1="149.1" y1="969.2" x2="160.6" y2="969.2" stroke="#333333" stroke-width="2.2"/>
<line x1="149.1" y1="1342.7" x2="160.6" y2="1342.7" stroke="#333333" stroke-width="2.2"/>
<line x1="149.1" y1="1455.1" x2="160.6" y2="1455.1" stroke="#333333" stroke-width="2.2"/>
<line x1="149.1" y1="1578" x2="160.6" y2="1578" stroke="#333333" stroke-width="2.2"/>
<text x="159.51" y="50.75" font-size="47.5" fill="#000000" textLength="33.29" lengthAdjust="spacingAndGlyphs">A</text>
<text x="158.15" y="682.8" font-size="47.5" fill="#000000" textLength="29.08" lengthAdjust="spacingAndGlyphs">B</text>
<text x="159.93" y="1246.6" font-size="47.5" fill="#000000" textLength="32.86" lengthAdjust="spacingAndGlyphs">C</text>
<text x="291.77" y="126.5" font-size="45" fill="#222222" textLength="323" lengthAdjust="spacingAndGlyphs">Tempisque river</text>
<text x="912.06" y="126.5" font-size="45" fill="#222222" textLength="303.72" lengthAdjust="spacingAndGlyphs">Ahogados river</text>
<text x="1497.17" y="126.4" font-size="45" fill="#222222" textLength="354.56" lengthAdjust="spacingAndGlyphs">Tempisquito river</text>
<text x="997.19" y="607.2" font-size="45" fill="#000000" textLength="135.29" lengthAdjust="spacingAndGlyphs">Month</text>
<text x="836.25" y="1168.8" font-size="45" fill="#000000" textLength="456.4" lengthAdjust="spacingAndGlyphs">Exceedance probability</text>
<text x="709.84" y="1733.5" font-size="45" fill="#000000" textLength="712.48" lengthAdjust="spacingAndGlyphs">Exceedance probability April month</text>
<text x="61.63" y="178.15" font-size="38" fill="#5E5E5E" textLength="83.41" lengthAdjust="spacingAndGlyphs">1000</text>
<text x="82.75" y="298.35" font-size="38" fill="#5E5E5E" textLength="62.29" lengthAdjust="spacingAndGlyphs">100</text>
<text x="103.22" y="418.55" font-size="38" fill="#5E5E5E" textLength="41.83" lengthAdjust="spacingAndGlyphs">10</text>
<text x="61.63" y="742.35" font-size="38" fill="#5E5E5E" textLength="83.41" lengthAdjust="spacingAndGlyphs">1000</text>
<text x="82.75" y="862.7" font-size="38" fill="#5E5E5E" textLength="62.29" lengthAdjust="spacingAndGlyphs">100</text>
<text x="103.22" y="983.05" font-size="38" fill="#5E5E5E" textLength="41.83" lengthAdjust="spacingAndGlyphs">10</text>
<text x="102.86" y="1356.55" font-size="38" fill="#5E5E5E" textLength="42.21" lengthAdjust="spacingAndGlyphs">30</text>
<text x="103.22" y="1468.95" font-size="38" fill="#5E5E5E" textLength="41.83" lengthAdjust="spacingAndGlyphs">10</text>
<text x="122.62" y="1591.85" font-size="38" fill="#5E5E5E" textLength="22.56" lengthAdjust="spacingAndGlyphs">3</text>
<text x="179.6" y="557.5" font-size="38" fill="#5E5E5E" textLength="18.44" lengthAdjust="spacingAndGlyphs">1</text>
<text x="225.15" y="557.5" font-size="38" fill="#5E5E5E" textLength="22.8" lengthAdjust="spacingAndGlyphs">2</text>
<text x="274.47" y="557.5" font-size="38" fill="#5E5E5E" textLength="22.56" lengthAdjust="spacingAndGlyphs">3</text>
<text x="322.81" y="557.5" font-size="38" fill="#5E5E5E" textLength="20.12" lengthAdjust="spacingAndGlyphs">4</text>
<text x="369.77" y="557.5" font-size="38" fill="#5E5E5E" textLength="24.3" lengthAdjust="spacingAndGlyphs">5</text>
<text x="418.74" y="557.5" font-size="38" fill="#5E5E5E" textLength="22.32" lengthAdjust="spacingAndGlyphs">6</text>
<text x="466.07" y="557.5" font-size="38" fill="#5E5E5E" textLength="24.52" lengthAdjust="spacingAndGlyphs">7</text>
<text x="518.12" y="557.5" font-size="38" fill="#5E5E5E" textLength="21.97" lengthAdjust="spacingAndGlyphs">8</text>
<text x="565.75" y="557.5" font-size="38" fill="#5E5E5E" textLength="21.98" lengthAdjust="spacingAndGlyphs">9</text>
<text x="603.12" y="557.5" font-size="38" fill="#5E5E5E" textLength="42.97" lengthAdjust="spacingAndGlyphs">10</text>
<text x="651.73" y="557.5" font-size="38" fill="#5E5E5E" textLength="41.32" lengthAdjust="spacingAndGlyphs">11</text>
<text x="699.65" y="557.5" font-size="38" fill="#5E5E5E" textLength="44.44" lengthAdjust="spacingAndGlyphs">12</text>
<text x="789" y="557.5" font-size="38" fill="#5E5E5E" textLength="18.44" lengthAdjust="spacingAndGlyphs">1</text>
<text x="837.05" y="557.5" font-size="38" fill="#5E5E5E" textLength="22.8" lengthAdjust="spacingAndGlyphs">2</text>
<text x="883.97" y="557.5" font-size="38" fill="#5E5E5E" textLength="22.56" lengthAdjust="spacingAndGlyphs">3</text>
<text x="934.91" y="557.5" font-size="38" fill="#5E5E5E" textLength="20.12" lengthAdjust="spacingAndGlyphs">4</text>
<text x="979.57" y="557.5" font-size="38" fill="#5E5E5E" textLength="24.3" lengthAdjust="spacingAndGlyphs">5</text>
<text x="1030.34" y="557.5" font-size="38" fill="#5E5E5E" textLength="22.33" lengthAdjust="spacingAndGlyphs">6</text>
<text x="1078.17" y="557.5" font-size="38" fill="#5E5E5E" textLength="24.52" lengthAdjust="spacingAndGlyphs">7</text>
<text x="1127.42" y="557.5" font-size="38" fill="#5E5E5E" textLength="21.97" lengthAdjust="spacingAndGlyphs">8</text>
<text x="1176.95" y="557.5" font-size="38" fill="#5E5E5E" textLength="21.98" lengthAdjust="spacingAndGlyphs">9</text>
<text x="1212.72" y="557.5" font-size="38" fill="#5E5E5E" textLength="42.97" lengthAdjust="spacingAndGlyphs">10</text>
<text x="1263.53" y="557.5" font-size="38" fill="#5E5E5E" textLength="41.32" lengthAdjust="spacingAndGlyphs">11</text>
<text x="1309.05" y="557.5" font-size="38" fill="#5E5E5E" textLength="44.44" lengthAdjust="spacingAndGlyphs">12</text>
<text x="1400.7" y="557.5" font-size="38" fill="#5E5E5E" textLength="18.44" lengthAdjust="spacingAndGlyphs">1</text>
<text x="1446.45" y="557.5" font-size="38" fill="#5E5E5E" textLength="22.8" lengthAdjust="spacingAndGlyphs">2</text>
<text x="1495.77" y="557.5" font-size="38" fill="#5E5E5E" textLength="22.56" lengthAdjust="spacingAndGlyphs">3</text>
<text x="1544.41" y="557.5" font-size="38" fill="#5E5E5E" textLength="20.12" lengthAdjust="spacingAndGlyphs">4</text>
<text x="1590.97" y="557.5" font-size="38" fill="#5E5E5E" textLength="24.3" lengthAdjust="spacingAndGlyphs">5</text>
<text x="1641.84" y="557.5" font-size="38" fill="#5E5E5E" textLength="22.33" lengthAdjust="spacingAndGlyphs">6</text>
<text x="1687.37" y="557.5" font-size="38" fill="#5E5E5E" textLength="24.52" lengthAdjust="spacingAndGlyphs">7</text>
<text x="1739.02" y="557.5" font-size="38" fill="#5E5E5E" textLength="21.97" lengthAdjust="spacingAndGlyphs">8</text>
<text x="1786.75" y="557.5" font-size="38" fill="#5E5E5E" textLength="21.98" lengthAdjust="spacingAndGlyphs">9</text>
<text x="1824.52" y="557.5" font-size="38" fill="#5E5E5E" textLength="42.97" lengthAdjust="spacingAndGlyphs">10</text>
<text x="1873.33" y="557.5" font-size="38" fill="#5E5E5E" textLength="41.32" lengthAdjust="spacingAndGlyphs">11</text>
<text x="1921.05" y="557.5" font-size="38" fill="#5E5E5E" textLength="44.44" lengthAdjust="spacingAndGlyphs">12</text>
<text x="149.79" y="1122.3" font-size="38" fill="#5E5E5E" textLength="73.62" lengthAdjust="spacingAndGlyphs">0.00</text>
<text x="149.79" y="1686.2" font-size="38" fill="#5E5E5E" textLength="73.62" lengthAdjust="spacingAndGlyphs">0.00</text>
<text x="283.29" y="1122.3" font-size="38" fill="#5E5E5E" textLength="73.62" lengthAdjust="spacingAndGlyphs">0.25</text>
<text x="283.29" y="1686.2" font-size="38" fill="#5E5E5E" textLength="73.62" lengthAdjust="spacingAndGlyphs">0.25</text>
<text x="418.74" y="1122.3" font-size="38" fill="#5E5E5E" textLength="73.73" lengthAdjust="spacingAndGlyphs">0.50</text>
<text x="418.74" y="1686.2" font-size="38" fill="#5E5E5E" textLength="73.73" lengthAdjust="spacingAndGlyphs">0.50</text>
<text x="552.59" y="1122.3" font-size="38" fill="#5E5E5E" textLength="73.62" lengthAdjust="spacingAndGlyphs">0.75</text>
<text x="552.59" y="1686.2" font-size="38" fill="#5E5E5E" textLength="73.62" lengthAdjust="spacingAndGlyphs">0.75</text>
<text x="688.83" y="1122.3" font-size="38" fill="#5E5E5E" textLength="71.08" lengthAdjust="spacingAndGlyphs">1.00</text>
<text x="688.83" y="1686.2" font-size="38" fill="#5E5E5E" textLength="71.08" lengthAdjust="spacingAndGlyphs">1.00</text>
<text x="758.49" y="1122.3" font-size="38" fill="#5E5E5E" textLength="73.62" lengthAdjust="spacingAndGlyphs">0.00</text>
<text x="758.49" y="1686.2" font-size="38" fill="#5E5E5E" textLength="73.62" lengthAdjust="spacingAndGlyphs">0.00</text>
<text x="894.39" y="1122.3" font-size="38" fill="#5E5E5E" textLength="73.62" lengthAdjust="spacingAndGlyphs">0.25</text>
<text x="894.39" y="1686.2" font-size="38" fill="#5E5E5E" textLength="73.62" lengthAdjust="spacingAndGlyphs">0.25</text>
<text x="1028.74" y="1122.3" font-size="38" fill="#5E5E5E" textLength="73.73" lengthAdjust="spacingAndGlyphs">0.50</text>
<text x="1028.74" y="1686.2" font-size="38" fill="#5E5E5E" textLength="73.73" lengthAdjust="spacingAndGlyphs">0.50</text>
<text x="1164.59" y="1122.3" font-size="38" fill="#5E5E5E" textLength="73.62" lengthAdjust="spacingAndGlyphs">0.75</text>
<text x="1164.59" y="1686.2" font-size="38" fill="#5E5E5E" textLength="73.62" lengthAdjust="spacingAndGlyphs">0.75</text>
<text x="1298.33" y="1122.3" font-size="38" fill="#5E5E5E" textLength="71.08" lengthAdjust="spacingAndGlyphs">1.00</text>
<text x="1298.33" y="1686.2" font-size="38" fill="#5E5E5E" textLength="71.08" lengthAdjust="spacingAndGlyphs">1.00</text>
<text x="1371.29" y="1122.3" font-size="38" fill="#5E5E5E" textLength="73.62" lengthAdjust="spacingAndGlyphs">0.00</text>
<text x="1371.29" y="1686.2" font-size="38" fill="#5E5E5E" textLength="73.62" lengthAdjust="spacingAndGlyphs">0.00</text>
<text x="1504.39" y="1122.3" font-size="38" fill="#5E5E5E" textLength="73.62" lengthAdjust="spacingAndGlyphs">0.25</text>
<text x="1504.39" y="1686.2" font-size="38" fill="#5E5E5E" textLength="73.62" lengthAdjust="spacingAndGlyphs">0.25</text>
<text x="1640.24" y="1122.3" font-size="38" fill="#5E5E5E" textLength="73.73" lengthAdjust="spacingAndGlyphs">0.50</text>
<text x="1640.24" y="1686.2" font-size="38" fill="#5E5E5E" textLength="73.73" lengthAdjust="spacingAndGlyphs">0.50</text>
<text x="1773.69" y="1122.3" font-size="38" fill="#5E5E5E" textLength="73.62" lengthAdjust="spacingAndGlyphs">0.75</text>
<text x="1773.69" y="1686.2" font-size="38" fill="#5E5E5E" textLength="73.62" lengthAdjust="spacingAndGlyphs">0.75</text>
<text x="1910.23" y="1122.3" font-size="38" fill="#5E5E5E" textLength="71.08" lengthAdjust="spacingAndGlyphs">1.00</text>
<text x="1910.23" y="1686.2" font-size="38" fill="#5E5E5E" textLength="71.08" lengthAdjust="spacingAndGlyphs">1.00</text>
<g transform="translate(49.5,0) rotate(-90)">
<text fill="#000000"><tspan x="-490.15" y="0" font-size="45" textLength="224.1" lengthAdjust="spacingAndGlyphs">Discharge (</tspan><tspan x="-265.97" y="0" font-size="45" textLength="40.97" lengthAdjust="spacingAndGlyphs">m</tspan><tspan x="-227.53" y="-11" font-size="31" textLength="15.8" lengthAdjust="spacingAndGlyphs">3</tspan><tspan x="-212.4" y="0" font-size="45" textLength="46.57" lengthAdjust="spacingAndGlyphs">/s)</tspan></text>
<text fill="#000000"><tspan x="-1054.55" y="0" font-size="45" textLength="224.1" lengthAdjust="spacingAndGlyphs">Discharge (</tspan><tspan x="-830.37" y="0" font-size="45" textLength="40.97" lengthAdjust="spacingAndGlyphs">m</tspan><tspan x="-791.93" y="-11" font-size="31" textLength="15.8" lengthAdjust="spacingAndGlyphs">3</tspan><tspan x="-776.8" y="0" font-size="45" textLength="46.57" lengthAdjust="spacingAndGlyphs">/s)</tspan></text>
<text fill="#000000"><tspan x="-1619.05" y="0" font-size="45" textLength="224.1" lengthAdjust="spacingAndGlyphs">Discharge (</tspan><tspan x="-1394.87" y="0" font-size="45" textLength="40.97" lengthAdjust="spacingAndGlyphs">m</tspan><tspan x="-1356.43" y="-11" font-size="31" textLength="15.8" lengthAdjust="spacingAndGlyphs">3</tspan><tspan x="-1341.3" y="0" font-size="45" textLength="46.57" lengthAdjust="spacingAndGlyphs">/s)</tspan></text>
</g>
</svg>
</body></html>
